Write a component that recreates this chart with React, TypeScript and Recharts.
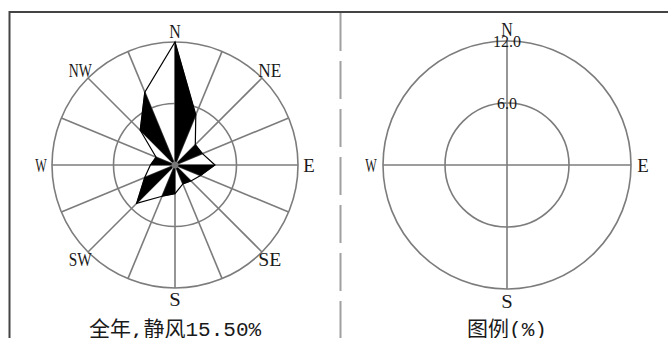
import React from 'react';
import { RadarChart, Radar, PolarGrid, PolarAngleAxis, PolarRadiusAxis } from 'recharts';

// 16 wind directions, clockwise from north
const directions = ['N', 'NNE', 'NE', 'ENE', 'E', 'ESE', 'SE', 'SSE', 'S', 'SSW', 'SW', 'WSW', 'W', 'WNW', 'NW', 'NNW'];
// annual wind frequency (%) per direction
const frequencies = [12.0, 5.3, 2.8, 2.9, 3.9, 2.7, 2.2, 2.0, 2.8, 3.3, 5.3, 3.2, 2.4, 2.0, 4.8, 7.7];
const mainLabels = ['N', 'NE', 'E', 'SE', 'S', 'SW', 'W', 'NW'];
const legendDirections = ['N', 'E', 'S', 'W'];
const legendValues = [0, 0, 0, 0];
const radiusTicks = [6, 12];
const radiusMax = 12;
const roseTitle = '全年,静风15.50%';
const legendTitle = '图例(%)';

const roseData = directions.map((d, i) => ({ dir: d, freq: frequencies[i] }));
const legendData = legendDirections.map((d, i) => ({ dir: d, freq: legendValues[i] }));

const GRID = '#7c7c7c';
const INK = '#1a1a1a';
const LABEL_FONT = "'Liberation Serif', 'DejaVu Serif', serif";

const DirTick = (props: any) => {
  const { x, y, payload } = props;
  const v = String(payload.value);
  if (!mainLabels.includes(v)) return <g />;
  return (
    <text
      x={x}
      y={y}
      textAnchor="middle"
      dominantBaseline="central"
      fontFamily={LABEL_FONT}
      fontSize={19}
      fill={INK}
      textLength={v.length * 11.5}
      lengthAdjust="spacingAndGlyphs"
    >
      {v}
    </text>
  );
};

const RadTick = (props: any) => {
  const { x, y, payload } = props;
  return (
    <text x={x} y={y} textAnchor="middle" dominantBaseline="central" fontFamily="'Liberation Serif', serif" fontSize={16} fill={INK}>
      {Number(payload.value).toFixed(1)}
    </text>
  );
};

// wind rose: outline polygon plus alternate black triangles (center, v_i, v_i+1)
const RoseShape = (props: any) => {
  const pts = props.points || [];
  if (!pts.length) return <g />;
  const n = pts.length;
  const cx = pts[0].cx;
  const cy = pts[0].cy;
  const tris = [];
  for (let i = 0; i < n; i += 2) {
    const a = pts[i];
    const b = pts[(i + 1) % n];
    tris.push(
      <polygon
        key={i}
        points={`${cx},${cy} ${a.x},${a.y} ${b.x},${b.y}`}
        fill="#000"
        stroke="#000"
        strokeWidth={0.6}
        strokeLinejoin="round"
      />
    );
  }
  const outline = pts.map((p: any) => `${p.x},${p.y}`).join(' ');
  return (
    <g>
      {tris}
      <polygon points={outline} fill="none" stroke="#000" strokeWidth={1.2} strokeLinejoin="miter" />
      <circle cx={cx} cy={cy} r={3.5} fill="#777" />
    </g>
  );
};

export default function App() {
  return (
    <div style={{ position: 'absolute', left: 0, top: 0, width: 668, height: 338, background: '#fff', overflow: 'hidden' }}>
      <svg width={668} height={338} style={{ position: 'absolute', left: 0, top: 0 }}>
        <line x1={9} y1={12} x2={668} y2={12} stroke="#444" strokeWidth={2} />
        <line x1={9.5} y1={11} x2={9.5} y2={338} stroke="#444" strokeWidth={2} />
        <line x1={340.5} y1={13} x2={340.5} y2={338} stroke="#a0a0a0" strokeWidth={2} strokeDasharray="38 10" />
        <text x={175} y={336} textAnchor="middle" fontFamily="'Liberation Mono', 'Noto Sans CJK SC', monospace" fontSize={21} fill={INK}>
          {roseTitle}
        </text>
        <text x={507} y={336} textAnchor="middle" fontFamily="'Liberation Mono', 'Noto Sans CJK SC', monospace" fontSize={21} fill={INK}>
          {legendTitle}
        </text>
      </svg>
      <div style={{ position: 'absolute', left: 0, top: 0 }}>
        <RadarChart
          width={340}
          height={338}
          cx={175}
          cy={165}
          outerRadius={123}
          margin={{ top: 0, right: 0, bottom: 0, left: 0 }}
          data={roseData}
          startAngle={90}
          endAngle={-270}
        >
          <PolarGrid gridType="circle" stroke={GRID} strokeWidth={1.6} />
          <PolarAngleAxis dataKey="dir" tick={<DirTick />} tickLine={false} axisLine={false} tickSize={11} />
          <PolarRadiusAxis domain={[0, radiusMax]} ticks={radiusTicks} tick={false} axisLine={false} tickLine={false} />
          <Radar dataKey="freq" isAnimationActive={false} shape={RoseShape} />
        </RadarChart>
      </div>
      <div style={{ position: 'absolute', left: 340, top: 0 }}>
        <RadarChart
          width={328}
          height={338}
          cx={167}
          cy={165}
          outerRadius={124}
          margin={{ top: 0, right: 0, bottom: 0, left: 0 }}
          data={legendData}
          startAngle={90}
          endAngle={-270}
        >
          <PolarGrid gridType="circle" stroke={GRID} strokeWidth={1.6} />
          <PolarAngleAxis dataKey="dir" tick={<DirTick />} tickLine={false} axisLine={false} tickSize={12} />
          <PolarRadiusAxis angle={90} domain={[0, radiusMax]} ticks={radiusTicks} tick={<RadTick />} axisLine={false} tickLine={false} />
          <Radar dataKey="freq" isAnimationActive={false} fill="none" stroke="none" />
        </RadarChart>
      </div>
    </div>
  );
}
